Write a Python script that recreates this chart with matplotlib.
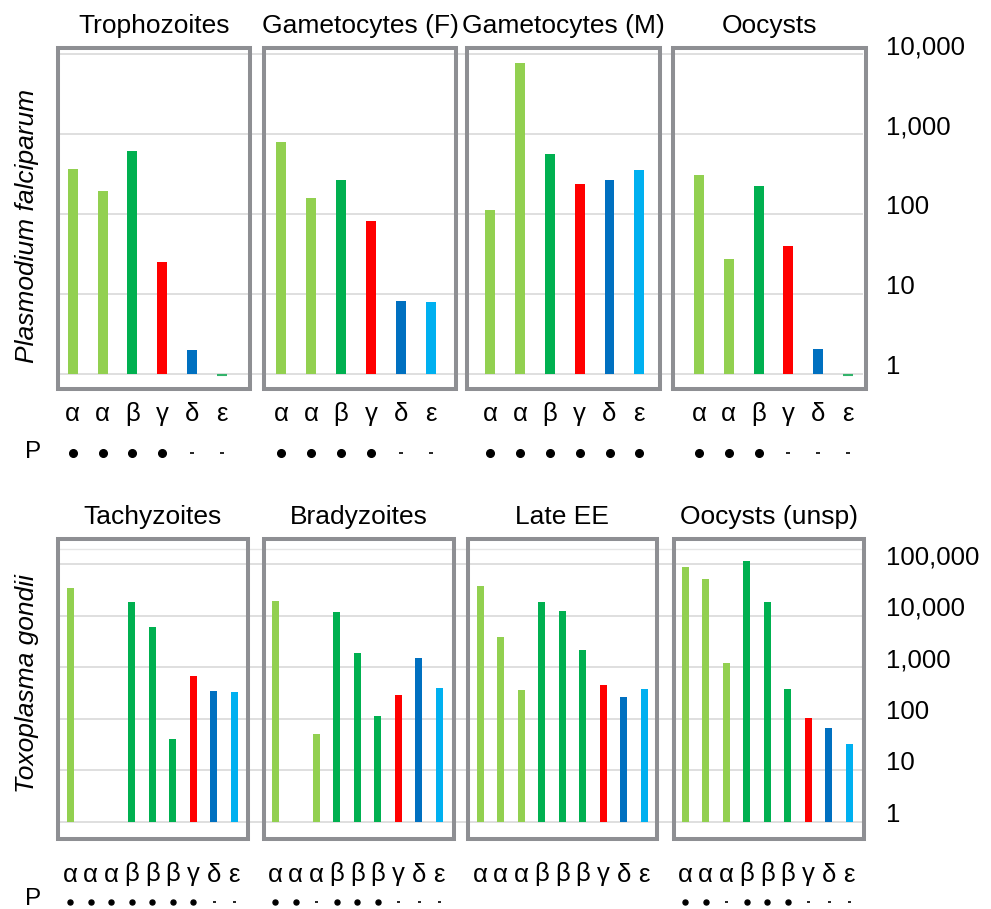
import matplotlib.pyplot as plt
import matplotlib.transforms as mtransforms
from matplotlib.patches import Rectangle

plt.rcParams['font.family'] = ['Liberation Sans', 'DejaVu Sans']

W, H = 991, 909

# top row: Plasmodium falciparum
top_groups = ['Trophozoites', 'Gametocytes (F)', 'Gametocytes (M)', 'Oocysts']
top_letters = ['α', 'α', 'β', 'γ', 'δ', 'ε']
top_colors = ['#92d050', '#92d050', '#00b050', '#ff0000', '#0070c0', '#00b0f0']
top_values = [
    [365, 195, 614, 25.4, 2.0, 1],
    [787, 157, 263, 82, 8.1, 7.9],
    [112, 7790, 562, 237, 268, 355],
    [303, 27, 221, 40, 2.05, 1],
]
top_p = [
    [1, 1, 1, 1, 0, 0],
    [1, 1, 1, 1, 0, 0],
    [1, 1, 1, 1, 1, 1],
    [1, 1, 1, 0, 0, 0],
]
top_ticks = [1, 10, 100, 1000, 10000]
top_ticklabels = ['1', '10', '100', '1,000', '10,000']

# bottom row: Toxoplasma gondii
bot_groups = ['Tachyzoites', 'Bradyzoites', 'Late EE', 'Oocysts (unsp)']
bot_letters = ['α', 'α', 'α', 'β', 'β', 'β', 'γ', 'δ', 'ε']
bot_colors = ['#92d050'] * 3 + ['#00b050'] * 3 + ['#ff0000', '#0070c0', '#00b0f0']
bot_values = [
    [33800, None, None, 18100, 5900, 41, 675, 346, 335],
    [19400, None, 51, 11900, 1860, 115, 285, 1520, 395],
    [37000, 3850, 362, 18600, 12300, 2150, 452, 269, 379],
    [86700, 51000, 1230, 114000, 18100, 373, 102, 67, 32],
]
bot_p = [
    [1, 1, 1, 1, 1, 1, 1, 0, 0],
    [1, 1, 0, 1, 1, 1, 0, 0, 0],
    None,
    [1, 1, 0, 1, 1, 1, 0, 0, 0],
]
bot_ticks = [1, 10, 100, 1000, 10000, 100000]
bot_ticklabels = ['1', '10', '100', '1,000', '10,000', '100,000']

fig = plt.figure(figsize=(W / 100, H / 100), dpi=100)


def draw_row(rect, groups, letters, colors, values, presence, ticks, ticklabels,
             xlim, ylim, boxes, bar_w, y_title, y_letters, y_p, y_plabel, dot_ms,
             ylabel, ylabel_y, top_line=None):
    ax = fig.add_axes(rect)
    ax.set_yscale('log')
    ax.set_xlim(*xlim)
    ax.set_ylim(*ylim)
    ax.set_yticks(ticks)
    ax.minorticks_off()
    ax.tick_params(left=False, bottom=False, labelleft=False, labelbottom=False)
    ax.set_xticks([])
    ax.yaxis.grid(True, color='#d9d9d9', lw=1.2)
    ax.set_axisbelow(True)
    for s in ax.spines.values():
        s.set_visible(False)
    if top_line:
        ax.axhline(top_line, color='#e6e6e6', lw=1.0, zorder=0)

    n = len(letters)
    xfig = mtransforms.blended_transform_factory(ax.transData, fig.transFigure)
    xaxes = mtransforms.blended_transform_factory(ax.transData, ax.transAxes)
    for g, vals in enumerate(values):
        x0 = g * (n + 1)
        for i, v in enumerate(vals):
            x = x0 + i
            if v is not None:
                if v <= 1:
                    ax.hlines(0.98, x - bar_w / 2, x + bar_w / 2, color='#33b36b', lw=1.5)
                else:
                    ax.bar(x, v - 1, bottom=1, width=bar_w, color=colors[i], zorder=2)
            ax.text(x, y_letters, letters[i], transform=xfig, ha='center', va='baseline',
                    fontsize=18.5, clip_on=False)
        if presence[g] is not None:
            xs_dot = [x0 + i for i, p in enumerate(presence[g]) if p]
            xs_dash = [x0 + i for i, p in enumerate(presence[g]) if not p]
            ax.plot(xs_dot, [y_p] * len(xs_dot), 'o', color='black', ms=dot_ms,
                    transform=xfig, clip_on=False)
            ax.plot(xs_dash, [y_p] * len(xs_dash), '_', color='black', ms=dot_ms * 0.6,
                    mew=1.2, transform=xfig, clip_on=False)
        bl, br = boxes[g]
        ax.add_patch(Rectangle((bl, 0), br - bl, 1, transform=xaxes, fill=False,
                               edgecolor='#8e8f93', lw=2.9, clip_on=False, zorder=5))
        ax.text((bl + br) / 2, y_title, groups[g], transform=xfig, ha='center',
                va='baseline', fontsize=19)

    yt = mtransforms.blended_transform_factory(fig.transFigure, ax.transData)
    for t, lab in zip(ticks, ticklabels):
        ax.text(886 / W, t, lab, transform=yt, ha='left', va='baseline', fontsize=18.5,
                clip_on=False)

    if any(p is not None for p in presence):
        fig.text(33.5 / W, y_plabel, 'P', ha='center', va='baseline', fontsize=17.5)
    fig.text(27.5 / W, ylabel_y, ylabel, rotation=90, ha='center', va='center',
             fontsize=19, style='italic')
    return ax


# top row: box line 48..389 px, gridline 1 at 374 px, 80 px per decade
draw_row([57 / W, 1 - 389 / H, (863 - 57) / W, (389 - 48) / H],
         top_groups, top_letters, top_colors, top_values, top_p,
         top_ticks, top_ticklabels,
         xlim=(-0.526, 26.50), ylim=(10 ** (-15 / 80), 10 ** (326 / 80)),
         boxes=[(-0.49, 5.96), (6.42, 12.85), (13.22, 19.70), (20.12, 26.60)],
         bar_w=0.335, y_title=1 - 32.5 / H, y_letters=1 - 421 / H,
         y_p=1 - 452.5 / H, y_plabel=1 - 458 / H, dot_ms=5.5,
         ylabel='Plasmodium falciparum', ylabel_y=1 - 226 / H)

# bottom row: box line 538.7..838.7 px, gridline 1 at 822 px, 51.6 px per decade
draw_row([57 / W, 1 - 838.7 / H, (862 - 57) / W, (838.7 - 538.7) / H],
         bot_groups, bot_letters, bot_colors, bot_values, bot_p,
         bot_ticks, bot_ticklabels,
         xlim=(-0.65, 38.62), ylim=(10 ** (-16.7 / 51.6), 10 ** (283.3 / 51.6)),
         boxes=[(-0.60, 8.65), (9.46, 18.70), (19.39, 28.62), (29.43, 38.70)],
         bar_w=0.33, y_title=1 - 524 / H, y_letters=1 - 881.5 / H,
         y_p=1 - 902 / H, y_plabel=1 - 905 / H, dot_ms=3.6,
         ylabel='Toxoplasma gondii', ylabel_y=1 - 684 / H,
         top_line=10 ** (273 / 51.6))

fig.savefig('out.png', dpi=100)
